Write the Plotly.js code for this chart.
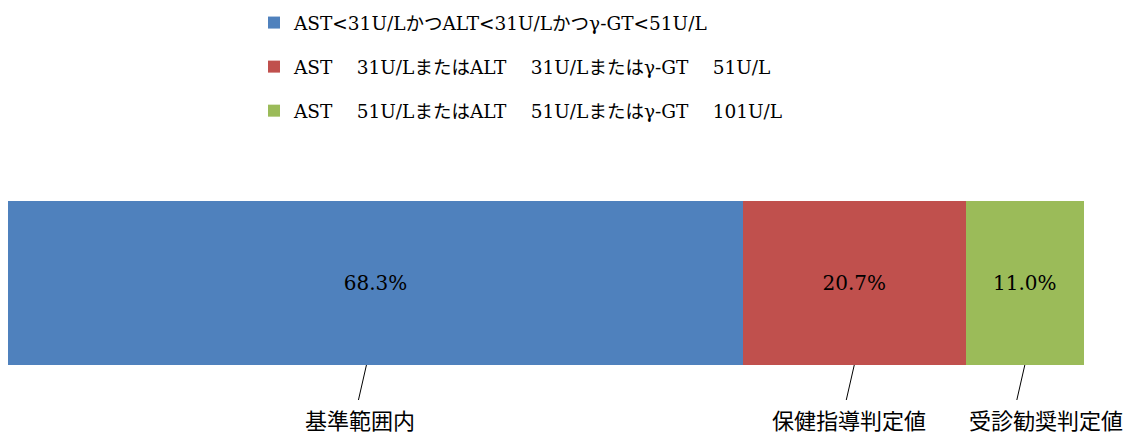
<!DOCTYPE html>
<html>
<head>
<meta charset="utf-8">
<script src="https://cdn.plot.ly/plotly-3.0.1.min.js"></script>
<style>
  html, body { margin: 0; padding: 0; background: #ffffff; }
  #chart { width: 1136px; height: 435px; }
</style>
</head>
<body>
<div id="chart"></div>
<script>
// ---- data ----
const seriesNames = [
  'AST<31U/LかつALT<31U/Lかつγ-GT<51U/L',
  'AST\u3000\u00a031U/LまたはALT\u3000\u00a031U/Lまたはγ-GT\u3000\u00a051U/L',
  'AST\u3000\u00a051U/LまたはALT\u3000\u00a051U/Lまたはγ-GT\u3000\u00a0101U/L'
];
const seriesValues = [68.3, 20.7, 11.0];
const categoryLabels = ['基準範囲内', '保健指導判定値', '受診勧奨判定値'];
const seriesColors = ['#4F81BD', '#C0504D', '#9BBB59'];
const rowCategory = [''];

// ---- build ----
const serifFont = '"DejaVu Serif", "Noto Sans CJK JP", serif';
const gothicFont = '"Noto Sans CJK JP", sans-serif';

const traces = seriesValues.map((v, i) => ({
  type: 'bar',
  orientation: 'h',
  name: seriesNames[i],
  legendgroup: 'g' + i,
  x: [v],
  y: rowCategory,
  marker: { color: seriesColors[i], line: { width: 0 } },
  text: [v.toFixed(1) + '%'],
  textposition: 'inside',
  insidetextanchor: 'middle',
  textangle: 0,
  textfont: { family: serifFont, size: 20, color: '#000000' },
  hoverinfo: 'skip'
}));

// midpoints of each segment (data coords)
const mids = [];
let cum = 0;
seriesValues.forEach(v => { mids.push(cum + v / 2); cum += v; });

const labelShift = [-15, -5, 21];
const lineShift = [-9, 0, 0];
const annotations = categoryLabels.map((t, i) => ({
  text: t,
  x: mids[i], xref: 'x',
  y: -0.5, yref: 'y',
  xanchor: 'center', yanchor: 'middle',
  xshift: labelShift[i], yshift: -54,
  showarrow: false,
  font: { family: gothicFont, size: 22, color: '#000000' }
}));

const shapes = mids.map((m, i) => ({
  type: 'line',
  xref: 'x', xsizemode: 'pixel', xanchor: m,
  x0: lineShift[i], x1: lineShift[i] - 8,
  yref: 'paper', ysizemode: 'pixel', yanchor: 0,
  y0: 0, y1: -35,
  line: { color: '#000000', width: 1 }
}));

const layout = {
  width: 1136, height: 435,
  margin: { l: 8, r: 52, t: 201, b: 70, pad: 0, autoexpand: false },
  paper_bgcolor: '#ffffff', plot_bgcolor: '#ffffff',
  barmode: 'stack',
  bargap: 0,
  showlegend: true,
  legend: {
    x: 0.2286, xanchor: 'left', xref: 'paper',
    y: 2.201, yanchor: 'top', yref: 'paper',
    orientation: 'v',
    traceorder: 'grouped',
    tracegroupgap: 17,
    font: { family: serifFont, size: 18.5, color: '#000000' },
    bgcolor: 'rgba(0,0,0,0)', borderwidth: 0
  },
  xaxis: { range: [0, 100], visible: false, fixedrange: true },
  yaxis: { range: [-0.5, 0.5], visible: false, fixedrange: true },
  annotations: annotations,
  shapes: shapes
};

Plotly.newPlot('chart', traces, layout, { displayModeBar: false, staticPlot: true });
</script>
</body>
</html>
